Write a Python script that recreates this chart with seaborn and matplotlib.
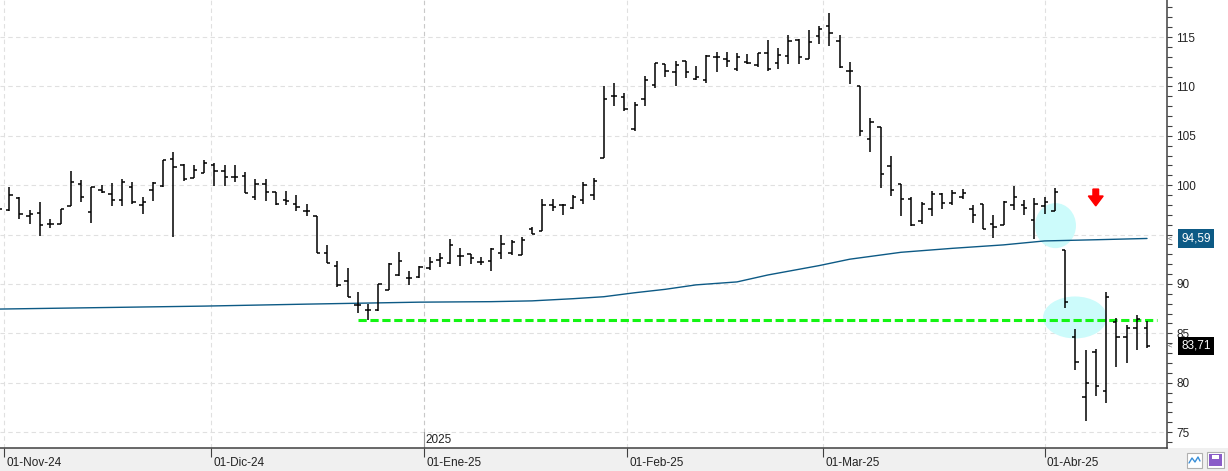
import seaborn as sns
import matplotlib.pyplot as plt
import matplotlib.transforms as mtransforms
from matplotlib.patches import Ellipse, FancyArrow, Rectangle
import numpy as np

# daily OHLC bars, one per session (index 0..112)
opens = [98.0, 97.5, 98.65, 96.9, 97.2, 96.1, 96.1, 97.9, 100.1, 97.3,
         99.5, 99.1, 98.5, 99.8, 98.0, 99.5, 99.9, 102.6, 102.0, 100.7,
         101.2, 102.0, 101.45, 100.8, 100.9, 98.8, 100.1, 99.26, 98.5, 98.1,
         97.4, 96.9, 93.1, 91.8, 90.3, 87.9, 87.4, 87.4, 89.4, 90.9,
         90.6, 90.7, 91.6, 92.4, 92.1, 92.8, 93.0, 92.25, 92.3, 93.1,
         93.1, 92.9, 95.55, 95.4, 98.0, 98.0, 97.7, 98.5, 99.0, 102.7,
         109.0, 108.9, 105.65, 108.7, 110.15, 112.3, 111.5, 112.6, 110.75, 110.65,
         113.0, 112.8, 111.75, 112.5, 112.2, 113.4, 112.4, 113.1, 114.65, 112.8,
         115.1, 116.15, 114.6, 111.6, 110.05, 104.7, 105.9, 101.9, 100.15, 98.6,
         96.4, 97.6, 99.15, 98.2, 98.8, 97.6, 98.1, 96.1, 95.95, 97.95,
         97.95, 96.5, 97.9, 97.35, 93.4, 84.6, 78.5, 83.1, 79.15, 86.1,
         84.65, 85.5, 85.5]
highs = [98.6, 99.8, 98.75, 97.5, 98.3, 96.6, 97.6, 101.4, 100.5, 99.83,
         100.0, 100.2, 100.6, 100.3, 98.75, 100.3, 102.5, 103.4, 102.1, 102.0,
         102.5, 102.2, 102.0, 102.0, 101.3, 100.6, 100.6, 99.26, 99.4, 99.0,
         98.1, 96.9, 93.9, 92.35, 91.65, 89.2, 88.0, 90.0, 92.1, 93.2,
         91.35, 91.8, 92.7, 93.1, 94.5, 93.6, 93.0, 92.75, 93.6, 94.95,
         94.4, 94.7, 95.8, 98.6, 98.55, 98.05, 99.0, 100.3, 100.7, 110.05,
         110.35, 109.35, 108.45, 111.1, 112.4, 112.3, 112.6, 112.6, 112.1, 113.2,
         113.45, 113.5, 113.4, 113.3, 113.4, 114.7, 113.9, 115.2, 114.8, 115.7,
         116.15, 117.4, 115.2, 112.5, 110.05, 106.85, 105.9, 103.0, 100.15, 98.8,
         98.3, 99.4, 99.25, 99.5, 99.65, 97.95, 98.1, 97.0, 98.35, 99.9,
         98.45, 98.7, 98.8, 99.7, 93.4, 85.4, 83.3, 83.45, 89.15, 86.5,
         85.8, 86.85, 86.2]
lows = [97.2, 97.4, 96.6, 96.1, 94.8, 95.7, 96.05, 97.9, 98.3, 96.2,
        99.2, 97.9, 97.9, 98.1, 97.1, 98.4, 99.8, 94.7, 100.4, 100.7,
        101.2, 99.9, 99.9, 100.3, 99.2, 98.5, 98.4, 98.0, 98.0, 97.4,
        96.9, 93.1, 92.1, 89.7, 88.7, 87.1, 86.3, 87.3, 89.4, 90.8,
        89.9, 90.6, 91.4, 91.75, 92.0, 91.85, 92.0, 91.9, 91.35, 92.5,
        92.9, 92.9, 95.1, 95.4, 97.4, 97.0, 97.6, 98.05, 98.5, 102.7,
        108.0, 107.5, 105.5, 108.05, 109.8, 111.0, 110.0, 110.9, 110.6, 110.35,
        111.5, 112.0, 111.55, 112.3, 112.0, 111.6, 111.8, 112.25, 112.25, 112.8,
        114.3, 114.05, 111.9, 110.25, 105.0, 103.4, 99.75, 98.9, 96.85, 95.85,
        96.1, 96.9, 97.55, 97.95, 98.6, 96.15, 95.55, 94.6, 95.95, 97.5,
        97.0, 94.5, 97.1, 97.35, 87.6, 81.3, 76.1, 78.65, 77.9, 81.6,
        82.0, 83.35, 83.5]
closes = [97.6, 99.0, 97.1, 97.1, 96.0, 96.1, 97.6, 100.3, 98.75, 99.83,
          99.26, 98.5, 100.3, 98.3, 98.3, 100.2, 102.5, 101.85, 100.6, 101.5,
          102.2, 101.45, 100.8, 100.8, 99.2, 100.1, 99.26, 98.1, 98.4, 97.8,
          97.4, 93.1, 92.1, 89.9, 88.7, 87.9, 87.4, 90.0, 92.0, 92.3,
          90.6, 91.75, 92.25, 92.6, 93.9, 92.8, 92.6, 92.25, 93.5, 94.0,
          94.2, 94.4, 95.1, 98.0, 97.75, 98.0, 98.8, 100.0, 100.4, 108.7,
          109.0, 107.7, 108.1, 110.6, 112.4, 111.6, 112.2, 111.5, 111.0, 113.1,
          113.0, 112.6, 113.0, 112.4, 113.4, 111.8, 113.2, 114.6, 113.0, 114.5,
          115.8, 115.4, 112.0, 111.6, 105.5, 106.4, 101.1, 99.55, 98.6, 96.0,
          98.1, 99.1, 98.2, 99.2, 99.25, 97.0, 95.55, 95.75, 98.3, 98.8,
          97.7, 98.05, 98.3, 99.3, 88.2, 82.1, 80.0, 79.65, 88.65, 84.6,
          85.5, 86.4, 83.71]

# moving average read at a handful of sessions
ma_idx = [0, 10, 20, 30, 41, 48, 52, 56, 59, 62, 65, 68, 72, 75, 80,
          83, 88, 93, 98, 102, 107, 112]
ma_val = [87.45, 87.6, 87.75, 87.95, 88.15, 88.2, 88.28, 88.5, 88.7, 89.1,
          89.45, 89.9, 90.2, 90.9, 91.85, 92.5, 93.2, 93.6, 93.95, 94.35,
          94.47, 94.6]

support = 86.35
month_pos = [0.5, 20.7, 41.5, 61.3, 80.4, 102.0]
month_labels = ['01-Nov-24', '01-Dic-24', '01-Ene-25', '01-Feb-25', '01-Mar-25', '01-Abr-25']
y_ticks = [75, 80, 85, 90, 95, 100, 105, 110, 115]
y_labels = ['75', '80', '85', '90', '', '100', '105', '110', '115']  # 95 sits under the MA tag
ma_last = 94.59
last_close = 83.71

sns.set_theme(style='white')
plt.rcParams['font.family'] = ['Liberation Sans', 'DejaVu Sans']

W, H = 1228, 471
fig = plt.figure(figsize=(W / 100, H / 100), dpi=100)
fig.add_artist(Rectangle((0, 0), 1, 23 / H, transform=fig.transFigure,
                         facecolor='#f0f0f0', edgecolor='none', zorder=0))
ax = fig.add_axes([0, 23 / H, 1167 / W, 448 / H])
ax.set_facecolor('white')

x = np.arange(len(closes))
ax.set_xlim(0.0976, 113.95)
ax.set_ylim(73.38, 118.75)

# grid
for v in y_ticks:
    ax.axhline(v, color='#e0e0e0', lw=0.8, ls=(0, (4, 3)), zorder=0)
for p in month_pos:
    c = '#c8c8c8' if p == 41.5 else '#e0e0e0'
    ax.axvline(p, color=c, lw=0.8, ls=(0, (4, 3)), zorder=0)
ax.plot([41.5, 41.5], [73.38, 75.0], color='#9a9a9a', lw=0.8, zorder=1)
ax.text(41.65, 73.6, '2025', fontsize=8.5, color='#222222', va='bottom', ha='left')

# highlight ellipses
ax.add_patch(Ellipse((103.07, 95.9), 4.0, 4.56, facecolor='#ccfbfb', edgecolor='none', zorder=1))
ax.add_patch(Ellipse((104.98, 86.6), 6.24, 4.25, facecolor='#ccfbfb', edgecolor='none', zorder=1))

# moving average
sns.lineplot(x=ma_idx, y=ma_val, ax=ax, color='#0d5a85', lw=1.0, zorder=2)

# support line
ax.plot([35.0, 113.0], [support, support], color='#14f514', lw=2.2,
        dashes=(2.7, 1.2), zorder=3)

# OHLC bars
tk = 0.32
ax.vlines(x, lows, highs, color='black', lw=1.1, zorder=4)
ax.hlines(opens, x - tk, x, color='black', lw=1.1, zorder=4)
ax.hlines(closes, x, x + tk, color='black', lw=1.1, zorder=4)

# red arrow
ax.add_patch(FancyArrow(107.0, 99.6, 0, -1.7, width=0.55, head_width=1.45,
                        head_length=1.0, length_includes_head=True,
                        color='#ff0000', zorder=5))

# axes styling
for s in ['top', 'left']:
    ax.spines[s].set_visible(False)
for s in ['right', 'bottom']:
    ax.spines[s].set_color('#404040')
    ax.spines[s].set_linewidth(1.1)
ax.yaxis.tick_right()
ax.set_yticks(y_ticks)
ax.set_yticklabels(y_labels)
ax.set_yticks(range(74, 119), minor=True)
ax.tick_params(axis='y', which='both', direction='out', length=3.6, width=0.8,
               color='#404040', labelsize=8.5, labelcolor='#222222', pad=3, right=True)
ax.set_xticks(month_pos)
ax.set_xticklabels(month_labels, ha='left')
ax.tick_params(axis='x', direction='out', length=6.5, width=0.8, color='#404040',
               labelsize=8.5, labelcolor='#222222', pad=0, bottom=True)
for lbl in ax.get_xticklabels():
    lbl.set_transform(lbl.get_transform() + mtransforms.ScaledTranslation(2 / 100, 0, fig.dpi_scale_trans))

# value tags on the right axis
tr = mtransforms.blended_transform_factory(ax.transAxes, ax.transData)
for val, txt, bg in [(ma_last, '94,59', '#0d5a85'), (last_close, '83,71', 'black')]:
    ax.text(1.0125, val, txt, transform=tr, fontsize=8.5, color='white', va='center',
            ha='left', clip_on=False, zorder=6,
            bbox=dict(boxstyle='square,pad=0.28', facecolor=bg, edgecolor='none'))
    ax.text(1.0006, val, '<', transform=tr, fontsize=5.5, color='#666666',
            va='center', ha='left', clip_on=False)

# small toolbar icons bottom right
fig.add_artist(Rectangle((1187 / W, 3 / H), 15 / W, 15 / H, transform=fig.transFigure,
                         facecolor='white', edgecolor='#b0b0b0', lw=0.8))
fig.add_artist(plt.Line2D(np.array([1189, 1192, 1195, 1198, 1200]) / W,
                          np.array([8, 13, 9, 14, 10]) / H, transform=fig.transFigure,
                          color='#3a8fd8', lw=1))
fig.add_artist(Rectangle((1207 / W, 3 / H), 17 / W, 16 / H, transform=fig.transFigure,
                         facecolor='white', edgecolor='#b0b0b0', lw=0.8))
fig.add_artist(Rectangle((1209 / W, 5 / H), 13 / W, 12 / H, transform=fig.transFigure,
                         facecolor='#8a5cc8', edgecolor='none'))
fig.add_artist(Rectangle((1212 / W, 12 / H), 7 / W, 4 / H, transform=fig.transFigure,
                         facecolor='white', edgecolor='none'))

fig.savefig('out.png', dpi=100)
